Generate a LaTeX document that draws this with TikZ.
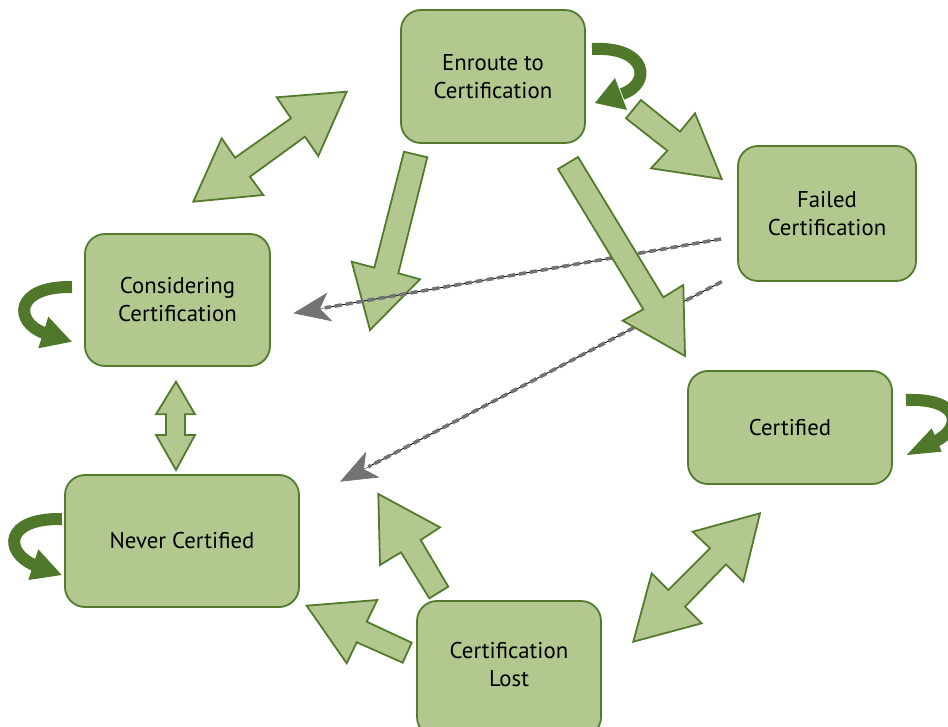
\documentclass[tikz,border=0pt]{standalone}
\usepackage{fontspec}
\setmainfont{PT Sans}
\usetikzlibrary{arrows.meta}
\definecolor{boxfill}{RGB}{178,200,143}
\definecolor{boxline}{RGB}{84,122,46}
\definecolor{loopcol}{RGB}{80,120,42}
\definecolor{dashgray}{RGB}{115,115,115}
\begin{document}
\begin{tikzpicture}[x=1pt,y=-1pt,
  state/.style={draw=boxline, fill=boxfill, line width=1.8pt, rounded corners=20pt,
    align=center, font=\fontsize{22.8}{28}\selectfont, inner sep=0pt},
  blockarrow/.style={draw=boxline, fill=boxfill, line width=1.8pt, line join=miter},
  loopband/.style={draw=loopcol, line width=12pt},
  loophead/.style={fill=loopcol},
  thinline/.style={draw=black, line width=0.7pt, shorten >=32pt},
  graydash/.style={draw=dashgray, line width=3.6pt, dash pattern=on 7pt off 4pt, shorten >=32pt},
  grayhead/.style={draw=dashgray, line width=0.7pt, -{Stealth[length=37pt,width=29pt,inset=10pt]}}
]
\useasboundingbox (0,0) rectangle (948,727);

% state nodes
\node[state, minimum width=184pt, minimum height=133pt] (enroute) at (493,76.5) {Enroute to\\Certification};
\node[state, minimum width=178pt, minimum height=135pt] (failed) at (827,213.5) {Failed\\Certification};
\node[state, minimum width=185pt, minimum height=132pt] (considering) at (177.5,300) {Considering\\Certification};
\node[state, minimum width=204pt, minimum height=113pt] (certified) at (790,427.5) {Certified};
\node[state, minimum width=234pt, minimum height=132pt] (never) at (182,541) {Never Certified};
\node[state, minimum width=184pt, minimum height=136pt] (lost) at (509,669) {};
\node[font=\fontsize{22.8}{28}\selectfont, align=center] (losttext) at (509,665) {Certification\\Lost};

% block arrows
\draw[blockarrow] (346.7,91.7) -- (276.7,97.3) -- (291,118.3) -- (235,157.7) -- (221.7,138.3)
  -- (193.3,201.7) -- (263.3,195) -- (250,176.7) -- (305,136.7) -- (318.3,156) -- cycle;
\draw[blockarrow] (641,100) -- (680,131.7) -- (695,113.3) -- (721.7,179) -- (651,168.3)
  -- (667.3,150.7) -- (626,118.3) -- cycle;
\draw[blockarrow] (404,151.7) -- (427.3,157.3) -- (398.3,273.3) -- (420,279.3) -- (370,330)
  -- (351.7,261.7) -- (374.3,267.7) -- cycle;
\draw[blockarrow] (176,381.7) -- (195,414.3) -- (185,414.3) -- (185,435) -- (195,435)
  -- (176,470) -- (156,435) -- (166,435) -- (166,414.3) -- (156,414.3) -- cycle;
\draw[blockarrow] (378.3,494) -- (440,527.3) -- (420.7,540) -- (448.3,586.7) -- (429.3,598.3)
  -- (401,552.3) -- (380,565) -- cycle;
\draw[blockarrow] (306.7,605.7) -- (377.3,600) -- (366.7,621.7) -- (411.7,642.7) -- (402.7,662.7)
  -- (356.7,642.3) -- (346.7,663.3) -- cycle;
\draw[blockarrow] (760,513.3) -- (743.3,581.7) -- (726,564.3) -- (685,606.7) -- (701.7,623.3)
  -- (633.3,641.7) -- (651.7,573.3) -- (668.3,590) -- (710,548.3) -- (692.7,531.7) -- cycle;

% dashed connector 1: Failed -> Considering
\coordinate (d1s) at (721,239);
\coordinate (d1e) at (293.3,313.3);
\draw[grayhead] (d1s) -- (d1e);
\draw[thinline] (d1s) -- (d1e);
\draw[graydash] (d1s) -- (d1e);

% dashed connector 2: Failed -> Never Certified
\coordinate (d2s) at (721.7,281.7);
\coordinate (d2e) at (340,481.7);
\draw[grayhead] (d2s) -- (d2e);
\draw[thinline] (d2s) -- (d2e);
\draw[graydash] (d2s) -- (d2e);

% long arrow Enroute -> Certified (on top of connector 2)
\draw[blockarrow] (558,169) -- (578,157) -- (663.3,297.3) -- (683.3,285) -- (685,356)
  -- (622.7,320.7) -- (643.3,309.3) -- cycle;

% self loops
\draw[loopband] (592,49) .. controls (648,46) and (652,84) .. (622,94);
\fill[loophead] (595,103) -- (615,78) -- (627,110) -- cycle;

\draw[loopband] (72,287) .. controls (14,286) and (14,322) .. (44,333);
\fill[loophead] (71.7,341.7) -- (48.3,316.7) -- (38.3,348.3) -- cycle;

\draw[loopband] (62,519) .. controls (4,518) and (4,552) .. (34,565);
\fill[loophead] (61.7,575) -- (38.3,549.3) -- (28.3,580) -- cycle;

\draw[loopband] (906,400) .. controls (962,398) and (962,428) .. (936,441);
\fill[loophead] (906.7,455) -- (931.7,428.3) -- (941.7,451.7) -- cycle;
\end{tikzpicture}
\end{document}
